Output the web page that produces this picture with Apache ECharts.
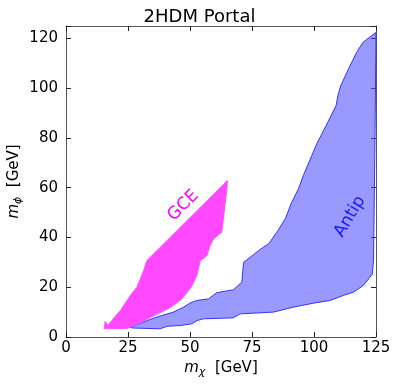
<!DOCTYPE html>
<html>
<head>
<meta charset="utf-8">
<script src="https://cdn.jsdelivr.net/npm/echarts@6/dist/echarts.min.js"></script>
<style>
  html, body { margin: 0; padding: 0; background: #fff; }
  #chart { width: 399px; height: 387px; }
</style>
</head>
<body>
<div id="chart"></div>
<script>
// region outlines: [m_chi, m_phi] in GeV
var gcePoints = [
  [15.4, 3.3], [15.8, 6.3], [16.8, 4.6], [18.5, 6.6], [20.1, 8.6], [21.9, 10.6],
  [24.6, 14.7], [26.5, 17.5], [28.6, 20.0], [31.3, 26.7], [32.6, 30.7],
  [65.1, 62.9], [64.9, 59.5], [62.8, 42.1], [59.5, 39.4], [58.1, 36.7],
  [56.8, 32.7], [54.1, 30.5], [52.8, 24.8], [50.6, 20.2], [46.6, 15.2],
  [42.0, 11.8], [35.5, 8.6], [30.0, 5.8], [26.5, 4.2], [24.5, 3.4]
];
var antipPoints = [
  [25.9, 3.9], [32.6, 6.6], [36.6, 8.0], [43.3, 10.0], [47.4, 12.0], [50.1, 13.7],
  [52.8, 14.7], [57.4, 15.3], [60.8, 17.8], [67.5, 19.0], [70.2, 21.4],
  [70.9, 22.0], [71.6, 30.0], [75.6, 33.1], [77.6, 34.7], [79.6, 36.1],
  [81.7, 37.4], [85.0, 42.1], [88.4, 47.5], [91.0, 54.1], [93.7, 59.5],
  [95.7, 64.9], [99.1, 72.9], [101.1, 77.6], [105.2, 85.6], [108.9, 93.0],
  [109.8, 97.7], [110.8, 101.0], [113.9, 107.7], [117.2, 114.4], [119.7, 118.4],
  [125.0, 122.4], [124.6, 80.0], [124.0, 30.7], [123.5, 25.2], [119.9, 20.7],
  [115.9, 18.0], [111.8, 16.7], [106.5, 14.7], [99.8, 13.6], [91.7, 12.0],
  [83.6, 10.0], [70.2, 9.3], [67.5, 7.7], [55.4, 7.3], [52.8, 6.6],
  [50.7, 5.3], [46.0, 4.6], [40.7, 4.3], [38.0, 3.3], [27.0, 3.6]
];
var xTicks = [0, 25, 50, 75, 100, 125];
var yTicks = [0, 20, 40, 60, 80, 100, 120];
var gceLabel = { text: 'GCE', at: [47.3, 52.8], angle: 45 };
var antipLabel = { text: 'Antip', at: [114.5, 48.4], angle: 59 };

var FONT = 'DejaVu Sans';
var myChart = echarts.init(document.getElementById('chart'));

function regionSeries(points, label, fill, stroke, textColor) {
  return {
    type: 'custom',
    coordinateSystem: 'cartesian2d',
    xAxisIndex: 0, yAxisIndex: 0,
    data: [points[0]],
    silent: true,
    renderItem: function (params, api) {
      var pts = points.map(function (p) { return api.coord(p); });
      var c = api.coord(label.at);
      return {
        type: 'group',
        children: [
          { type: 'polygon', shape: { points: pts },
            style: { fill: fill, stroke: stroke, lineWidth: 1 } },
          { type: 'text', x: c[0], y: c[1], rotation: label.angle * Math.PI / 180,
            style: { text: label.text, fill: textColor, font: '17px ' + FONT,
                     align: 'center', verticalAlign: 'middle' } }
        ]
      };
    }
  };
}

var tickStyle = { show: true, inside: true, length: 5, lineStyle: { color: '#222' } };
var lineStyle = { show: true, onZero: false, lineStyle: { color: '#555', width: 1 } };
var nameRich = {
  i: { fontFamily: FONT, fontStyle: 'italic', fontSize: 15, color: '#000' },
  s: { fontFamily: FONT, fontStyle: 'italic', fontSize: 11, color: '#000', verticalAlign: 'bottom', padding: [8, 0, 0, 0] },
  n: { fontFamily: FONT, fontSize: 15, color: '#000' }
};

option = {
  animation: false,
  title: {
    text: '2HDM Portal', left: 'center', top: 3,
    textStyle: { fontFamily: FONT, fontSize: 18, fontWeight: 'normal', color: '#000' }
  },
  grid: { left: 66, right: 23, top: 26, bottom: 50, outerBoundsMode: 'none', containLabel: false },
  xAxis: [
    { type: 'value', min: 0, max: 125, interval: 25, position: 'bottom',
      name: '{i|m}{s|χ}{n|  [GeV]}', nameLocation: 'middle', nameGap: 22, nameMoveOverlap: false,
      nameTextStyle: { rich: nameRich },
      axisLine: lineStyle, axisTick: tickStyle, splitLine: { show: false },
      axisLabel: { fontFamily: FONT, fontSize: 15, color: '#000', margin: 4,
        customValues: xTicks } },
    { type: 'value', min: 0, max: 125, interval: 25, position: 'top',
      axisLine: lineStyle, axisTick: tickStyle, splitLine: { show: false },
      axisLabel: { show: false } }
  ],
  yAxis: [
    { type: 'value', min: 0, max: 125, interval: 20, position: 'left',
      name: '{i|m}{s|ϕ}{n|  [GeV]}', nameLocation: 'middle', nameGap: 42, nameMoveOverlap: false,
      nameTextStyle: { rich: nameRich },
      axisLine: lineStyle, axisTick: tickStyle, splitLine: { show: false },
      axisLabel: { fontFamily: FONT, fontSize: 15, color: '#000', margin: 8,
        customValues: yTicks } },
    { type: 'value', min: 0, max: 125, interval: 20, position: 'right',
      axisLine: lineStyle, axisTick: tickStyle, splitLine: { show: false },
      axisLabel: { show: false } }
  ],
  series: [
    regionSeries(antipPoints, antipLabel, 'rgba(80,80,255,0.58)', '#3333ff', '#1a1aff'),
    regionSeries(gcePoints, gceLabel, 'rgba(255,40,255,0.85)', '#ff55ff', '#ff00ff')
  ]
};

myChart.setOption(option);
</script>
</body>
</html>
